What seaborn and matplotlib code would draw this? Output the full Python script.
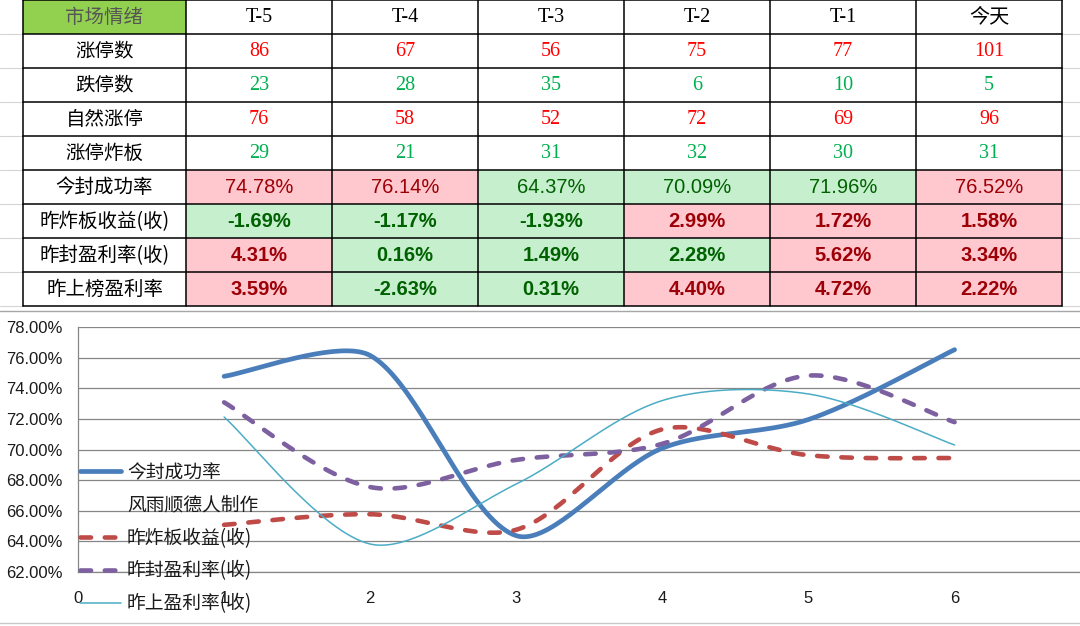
import numpy as np
import matplotlib
matplotlib.use('Agg')
import matplotlib.pyplot as plt
import seaborn as sns
from matplotlib.patches import Rectangle
from matplotlib.lines import Line2D

# ---- data read from the sheet ----
days = ['T-5', 'T-4', 'T-3', 'T-2', 'T-1', '今天']
x_days = [1, 2, 3, 4, 5, 6]
row_names = ['涨停数', '跌停数', '自然涨停', '涨停炸板',
             '今封成功率', '昨炸板收益(收)', '昨封盈利率(收)', '昨上榜盈利率']
limit_up = [86, 67, 56, 75, 77, 101]
limit_down = [23, 28, 35, 6, 10, 5]
natural_up = [76, 58, 52, 72, 69, 96]
broken_board = [29, 21, 31, 32, 30, 31]
seal_rate = [74.78, 76.14, 64.37, 70.09, 71.96, 76.52]
broken_ret = [-1.69, -1.17, -1.93, 2.99, 1.72, 1.58]
seal_ret = [4.31, 0.16, 1.49, 2.28, 5.62, 3.34]
board_ret = [3.59, -2.63, 0.31, 4.40, 4.72, 2.22]
# conditional formatting result (1 = red cell, 0 = green cell)
seal_rate_hot = [1, 1, 0, 0, 0, 1]
broken_ret_hot = [0, 0, 0, 1, 1, 1]
seal_ret_hot = [1, 0, 0, 0, 1, 1]
board_ret_hot = [1, 0, 0, 1, 1, 1]
series_names = ['今封成功率', '风雨顺德人制作', '昨炸板收益(收)', '昨封盈利率(收)', '昨上盈利率(收)']

CJK = ['Noto Sans CJK SC', 'DejaVu Sans']
SERIF = ['Liberation Serif', 'Noto Sans CJK SC']
SANS = ['Liberation Sans', 'Noto Sans CJK SC']

sns.set_style('white')
plt.rcParams['font.family'] = SANS

PX_X = 146.1          # pixels per day on the x axis
PX_Y1 = 245 / 16      # pixels per % on the primary axis
PX_Y2 = 245 / 12      # pixels per % on the hidden secondary axis


def smooth(xs, ys, sy, n=40):
    """Excel-like smoothed line: Bezier segments, tangent shortened next to a short segment."""
    pts = np.column_stack([np.asarray(xs, float) * PX_X, np.asarray(ys, float) * sy])
    m = len(pts)
    d = np.linalg.norm(np.diff(pts, axis=0), axis=1)
    t = np.linspace(0, 1, n)[:, None]
    out = []
    for i in range(m - 1):
        p1, p2 = pts[i], pts[i + 1]
        p0 = pts[i - 1] if i > 0 else p1
        p3 = pts[i + 2] if i + 2 < m else p2
        k1 = min(1.0, d[i] / d[i - 1]) if i > 0 else 1.0
        k2 = min(1.0, d[i] / d[i + 1]) if i + 2 < m else 1.0
        c1 = p1 + (p2 - p0) / 6 * k1
        c2 = p2 - (p3 - p1) / 6 * k2
        seg = (1 - t) ** 3 * p1 + 3 * (1 - t) ** 2 * t * c1 + 3 * (1 - t) * t ** 2 * c2 + t ** 3 * p2
        out.append(seg if i == 0 else seg[1:])
    res = np.vstack(out)
    return res[:, 0] / PX_X, res[:, 1] / sy


fig = plt.figure(figsize=(10.8, 6.26), dpi=100)

# ---- table (pixel coordinates) ----
tab = fig.add_axes([0, 0, 1, 1])
tab.set_xlim(0, 1080)
tab.set_ylim(626, 0)
tab.axis('off')

col_edges = [23, 186, 332, 478, 624, 770, 916, 1062]
row_edges = [-0.5 + 34 * k for k in range(10)]

# spreadsheet gridlines outside the table
for y in row_edges[1:]:
    tab.plot([0, 23], [y, y], color='#d4d4d4', lw=0.8)
    tab.plot([1062, 1080], [y, y], color='#d4d4d4', lw=0.8)


def cell_center(r, c):
    return (col_edges[c] + col_edges[c + 1]) / 2, (row_edges[r] + row_edges[r + 1]) / 2 + 1


# header
tab.add_patch(Rectangle((col_edges[0], row_edges[0]), col_edges[1] - col_edges[0],
                        row_edges[1] - row_edges[0], color='#92D050', lw=0))
x, y = cell_center(0, 0)
tab.text(x, y, '市场情绪', ha='center', va='center', fontsize=14, color='#555555', family=CJK)
for j, d in enumerate(days):
    x, y = cell_center(0, j + 1)
    tab.text(x, y, d, ha='center', va='center', fontsize=14.5, color='black', family=SERIF)

# row labels
for i, name in enumerate(row_names):
    x, y = cell_center(i + 1, 0)
    tab.text(x, y, name, ha='center', va='center', fontsize=14, color='black', family=CJK)

count_rows = [(limit_up, '#FF0000'), (limit_down, '#00B050'),
              (natural_up, '#FF0000'), (broken_board, '#00B050')]
for i, (vals, colr) in enumerate(count_rows):
    for j, v in enumerate(vals):
        x, y = cell_center(i + 1, j + 1)
        tab.text(x, y, str(v), ha='center', va='center', fontsize=14.5, color=colr, family=SERIF)

pct_rows = [(seal_rate, seal_rate_hot, 'normal'), (broken_ret, broken_ret_hot, 'bold'),
            (seal_ret, seal_ret_hot, 'bold'), (board_ret, board_ret_hot, 'bold')]
for i, (vals, hot, weight) in enumerate(pct_rows):
    r = i + 5
    for j, v in enumerate(vals):
        bg, fg = ('#FFC7CE', '#9C0006') if hot[j] else ('#C6EFCE', '#006100')
        tab.add_patch(Rectangle((col_edges[j + 1], row_edges[r]), col_edges[j + 2] - col_edges[j + 1],
                                row_edges[r + 1] - row_edges[r], color=bg, lw=0))
        x, y = cell_center(r, j + 1)
        tab.text(x, y, f'{v:.2f}%', ha='center', va='center', fontsize=14.5,
                 color=fg, weight=weight, family=SANS)

# table borders
for xe in col_edges:
    tab.plot([xe, xe], [row_edges[0], row_edges[-1]], color='black', lw=1.1)
for ye in row_edges:
    tab.plot([col_edges[0], col_edges[-1]], [ye, ye], color='black', lw=1.1)

# chart object frame
tab.plot([0, 1080], [311, 311], color='#a6a6a6', lw=1)
tab.plot([0, 1080], [623, 623], color='#c8c8c8', lw=1)

# ---- line chart ----
ax = fig.add_axes([78 / 1080, 54 / 626, 1002 / 1080, 245 / 626])
ax.set_facecolor('none')
ax.set_xlim(0, 1002 / PX_X)
ax.set_ylim(62, 78)
ax.set_yticks(np.arange(62, 78.1, 2))
ax.set_yticklabels([f'{v:.2f}%' for v in np.arange(62, 78.1, 2)])
ax.set_xticks(range(0, 7))
ax.yaxis.grid(True, color='#868686', lw=0.9)
ax.set_axisbelow(True)
for s in ['top', 'right']:
    ax.spines[s].set_visible(False)
for s in ['left', 'bottom']:
    ax.spines[s].set_color('#868686')
    ax.spines[s].set_linewidth(0.9)
ax.tick_params(axis='x', direction='out', length=3.6, width=0.9, color='#868686',
               labelsize=12, pad=10, labelcolor='#1a1a1a')
ax.tick_params(axis='y', length=0, labelsize=12, pad=11, labelcolor='#1a1a1a')

bx, by = smooth(x_days, seal_rate, PX_Y1)
sns.lineplot(x=bx, y=by, ax=ax, color='#4A7EBB', linewidth=3.4,
             sort=False, estimator=None)
ax.lines[-1].set_solid_capstyle('round')

ax2 = ax.twinx()
ax2.set_ylim(-4, 8)
ax2.axis('off')

styles = [(broken_ret, '#BE4B48', 3.3, (2.3, 3.0)),
          (seal_ret, '#7D60A0', 3.3, (2.3, 3.0)),
          (board_ret, '#4BACC6', 1.1, None)]
for vals, colr, lw, dash in styles:
    cx, cy = smooth(x_days, vals, PX_Y2)
    sns.lineplot(x=cx, y=cy, ax=ax2, color=colr, linewidth=lw,
                 sort=False, estimator=None)
    ln = ax2.lines[-1]
    if dash:
        ln.set_dashes(dash)
        ln.set_dash_capstyle('round')

handles = [ax.lines[0], Line2D([], [], linestyle='none')] + list(ax2.lines)
leg = ax2.legend(handles, series_names, loc='upper left',
                 bbox_to_anchor=(80 / 1080, 1 - 462 / 626), bbox_transform=fig.transFigure,
                 frameon=False, prop={'family': CJK, 'size': 13.5},
                 handlelength=2.2, handletextpad=0.3, labelspacing=0.63,
                 borderpad=0, borderaxespad=0)
for t in leg.get_texts():
    t.set_color('#1a1a1a')

fig.savefig('out.png', dpi=100)
